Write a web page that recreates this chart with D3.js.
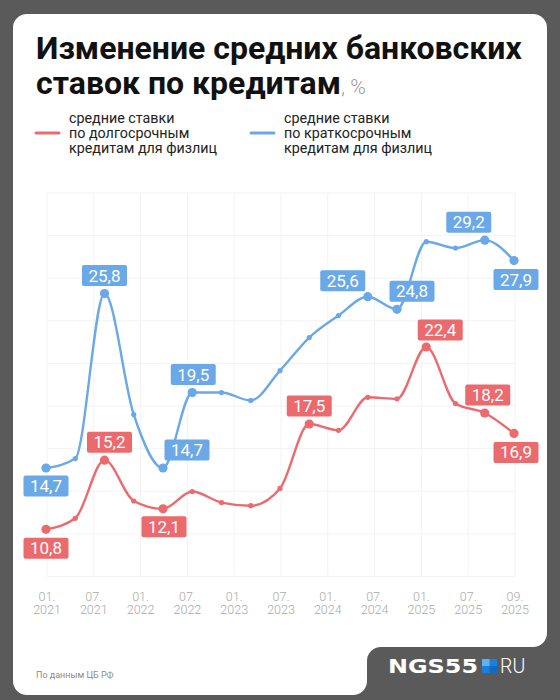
<!DOCTYPE html>
<html><head><meta charset="utf-8">
<script src="https://cdn.jsdelivr.net/npm/d3@7"></script>
<style>html,body{margin:0;padding:0;background:#5a5a5a;}svg{display:block;}</style>
</head><body>
<svg id="c" width="560" height="700"></svg>
<script>
// ---- data ----
const tickMonths = ["01.","07.","01.","07.","01.","07.","01.","07.","01.","07.","09."];
const tickYears  = ["2021","2021","2022","2022","2023","2023","2024","2024","2025","2025","2025"];
const shortTerm = [14.7,15.3,25.8,18.1,14.7,19.5,19.5,19.0,20.9,23.0,24.4,25.6,24.8,29.1,28.7,29.2,27.9];
const longTerm  = [10.8,11.5,15.2,12.6,12.1,13.2,12.5,12.3,13.4,17.5,17.1,19.2,19.1,22.4,18.8,18.2,16.9];
const shortLabeled = [0,2,4,5,11,12,15,16];
const longLabeled  = [0,2,4,9,13,15,16];
const seriesNames = [
  ["средние ставки","по долгосрочным","кредитам для физлиц"],
  ["средние ставки","по краткосрочным","кредитам для физлиц"]
];
// label offsets (placement only)
const shortOffsets = {0:[0,18],2:[0,-18],4:[24,-18],5:[1,-18],11:[-25,-16],12:[15,-18],15:[-16,-18],16:[2,19]};
const longOffsets  = {0:[0,19],2:[5,-18],4:[1,18],9:[0,-18],13:[14,-17],15:[3,-18],16:[2,19]};

const BLUE = "#6ba8e8", RED = "#eb6a6d";
const svg = d3.select("#c");
const FONT = "Roboto, 'Noto Sans', sans-serif";

// background card with notch
const L=13,T=14,R=547,B=695,NX=367,NY=647,r=14;
const p = d3.path();
p.moveTo(L+r,T); p.lineTo(R-r,T); p.arcTo(R,T,R,T+r,r);
p.lineTo(R,NY-r); p.arcTo(R,NY,R-r,NY,r);
p.lineTo(NX+r,NY); p.arcTo(NX,NY,NX,NY+r,r);
p.lineTo(NX,B-r); p.arcTo(NX,B,NX-r,B,r);
p.lineTo(L+r,B); p.arcTo(L,B,L,B-r,r);
p.lineTo(L,T+r); p.arcTo(L,T,L+r,T,r); p.closePath();
svg.append("rect").attr("width",560).attr("height",700).attr("fill","#5a5a5a");
svg.append("path").attr("d",p.toString()).attr("fill","#fff");

// title
const title = svg.append("text").attr("font-family",FONT).attr("fill","#111");
title.append("tspan").attr("x",36).attr("y",59).attr("font-size",32).attr("font-weight",700).text("Изменение средних банковских");
const t2 = svg.append("text").attr("font-family",FONT).attr("x",36).attr("y",94);
t2.append("tspan").attr("font-size",32).attr("font-weight",700).attr("fill","#111").text("ставок по кредитам");
t2.append("tspan").attr("font-size",21).attr("font-weight",300).attr("fill","#9a9a9a").text(", %");

// legend
const legX = [36,251], legC=[RED,BLUE];
seriesNames.forEach((lines,i)=>{
  svg.append("line").attr("x1",legX[i]).attr("x2",legX[i]+23).attr("y1",133).attr("y2",133)
    .attr("stroke",legC[i]).attr("stroke-width",3).attr("stroke-linecap","round");
  const t = svg.append("text").attr("font-family",FONT).attr("font-size",14.3).attr("fill","#222");
  lines.forEach((s,j)=>t.append("tspan").attr("x",legX[i]+33).attr("y",123+j*15).text(s));
});

// scales
const idx = d3.range(shortTerm.length);
const x = d3.scalePoint().domain(idx).range([46,514]);
const xt = d3.scalePoint().domain(d3.range(tickMonths.length)).range([47,515]);
const y = d3.scaleLinear().domain([7.7,32.2]).range([578,193]);

// grid
const g = svg.append("g");
const gridVals = d3.range(10).map(i=>7.8+i*(32.2-7.8)/9);
g.selectAll("line.h").data(gridVals).join("line").attr("class","h")
  .attr("x1",xt(0)).attr("x2",xt(10)).attr("y1",d=>y(d)).attr("y2",d=>y(d))
  .attr("stroke","#f2f3f5").attr("stroke-width",1);
g.selectAll("line.v").data(xt.domain()).join("line").attr("class","v")
  .attr("x1",d=>xt(d)).attr("x2",d=>xt(d)).attr("y1",y(32.2)).attr("y2",y(7.8))
  .attr("stroke","#f2f3f5").attr("stroke-width",1);

// x tick labels
const xl = svg.append("g").attr("font-family",FONT).attr("font-size",12.5).attr("font-weight",300)
  .attr("fill","#a9a9a9").attr("text-anchor","middle");
xt.domain().forEach(i=>{
  xl.append("text").attr("x",xt(i)).attr("y",600.5).text(tickMonths[i]);
  xl.append("text").attr("x",xt(i)).attr("y",614).text(tickYears[i]);
});

const line = d3.line().x((d,i)=>x(i)).y(d=>y(d)).curve(d3.curveMonotoneX);
function drawSeries(vals, labeled, offs, color){
  const gs = svg.append("g");
  gs.append("path").attr("d",line(vals)).attr("fill","none").attr("stroke",color).attr("stroke-width",2.4);
  gs.selectAll("circle").data(vals).join("circle")
    .attr("cx",(d,i)=>x(i)).attr("cy",d=>y(d))
    .attr("r",(d,i)=>labeled.includes(i)?4.6:2.6).attr("fill",color);
  labeled.forEach(i=>{
    const cx = x(i)+offs[i][0], cy = y(vals[i])+offs[i][1];
    gs.append("rect").attr("x",cx-22.5).attr("y",cy-10.5).attr("width",45).attr("height",21)
      .attr("rx",2).attr("fill",color);
    gs.append("text").attr("x",cx).attr("y",cy+6).attr("text-anchor","middle")
      .attr("font-family",FONT).attr("font-size",17).attr("fill","#fff")
      .text(String(vals[i].toFixed(1)).replace(".",","));
  });
}
drawSeries(shortTerm, shortLabeled, shortOffsets, BLUE);
drawSeries(longTerm, longLabeled, longOffsets, RED);

// source
svg.append("text").attr("x",36).attr("y",678).attr("font-family",FONT).attr("font-size",9)
  .attr("fill","#8a8a8a").text("По данным ЦБ РФ");

// logo
const lg = svg.append("g");
lg.append("text").attr("x",388).attr("y",673).attr("font-family","'DejaVu Sans', sans-serif")
  .attr("font-weight",700).attr("font-size",19.5).attr("fill","#fff").attr("textLength",90)
  .attr("lengthAdjust","spacingAndGlyphs").text("NGS55");
lg.append("rect").attr("x",482).attr("y",659).attr("width",15).attr("height",14).attr("fill","#1e7fd6");
lg.append("rect").attr("x",482).attr("y",659).attr("width",7.5).attr("height",7).attr("fill","#5cb3f5");
lg.append("rect").attr("x",489.5).attr("y",666).attr("width",7.5).attr("height",7).attr("fill","#0f6bc4");
lg.append("text").attr("x",500).attr("y",673).attr("font-family",FONT).attr("font-weight",300)
  .attr("font-size",19.5).attr("fill","#fff").text("RU");
</script>
</body></html>
